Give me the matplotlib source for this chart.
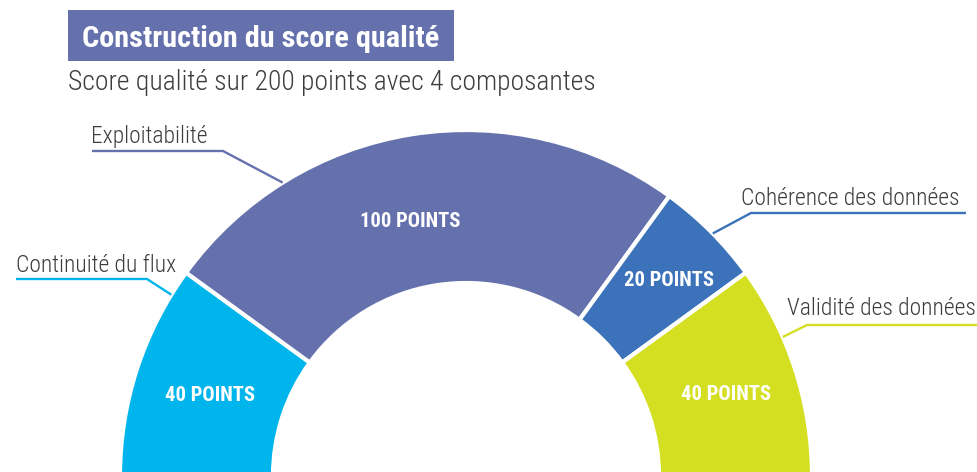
import numpy as np
import matplotlib
matplotlib.use("Agg")
import matplotlib.pyplot as plt
from matplotlib.patches import Rectangle

# --- data -------------------------------------------------------------
components = ["Continuité du flux", "Exploitabilité",
              "Cohérence des données", "Validité des données"]
points = [40, 100, 20, 40]
value_labels = ["40 POINTS", "100 POINTS", "20 POINTS", "40 POINTS"]
title = "Construction du score qualité"
subtitle = "Score qualité sur 200 points avec 4 composantes"

# --- style ------------------------------------------------------------
colors = ["#00B5EC", "#6571AD", "#3B72B9", "#D5DF22"]
text_grey = "#3d3d3d"
FONT = ["Roboto Condensed", "Liberation Sans Narrow", "DejaVu Sans"]

W, H = 977, 472
fig = plt.figure(figsize=(W / 100, H / 100), dpi=100)
ax = fig.add_axes([0, 0, 1, 1])


def py(y):
    """Convert a top-down pixel row to the axes' upward y coordinate."""
    return H - y


cx, cy = 466, 476          # centre of the half ring
R_out, R_in = 346, 193     # outer and inner radius

total = sum(points)
fracs = np.array(points) / (2 * total)   # half circle only
wedges, _ = ax.pie(fracs, normalize=False, colors=colors, startangle=180,
                   counterclock=False, center=(cx, py(cy)), radius=R_out,
                   wedgeprops=dict(width=R_out - R_in, edgecolor="white",
                                   linewidth=3))
ax.set_xlim(0, W)
ax.set_ylim(0, H)
ax.set_aspect("equal")
ax.axis("off")

# values written inside each segment
label_radius = [269, 263, 282, 273]
label_dx = [0, -15, 4, 0]
label_dy = [-3, -5, -4, -3]
for w, txt, rr, dx, dy in zip(wedges, value_labels, label_radius,
                              label_dx, label_dy):
    mid = np.deg2rad((w.theta1 + w.theta2) / 2)
    x = cx + rr * np.cos(mid) + dx
    y = py(cy) + rr * np.sin(mid) + dy
    ax.text(x, y, txt, color="white", fontsize=14.8, fontweight="bold",
            family=FONT, ha="center", va="center")

# leader lines: anchor angle on the outer edge, elbow, end of the underline
anchor_deg = [148.4, 122.0, 44.5, 23.7]
elbows = [(147, 279), (223, 151), (751, 213), (807, 325)]
line_end_x = [16, 92, 966, 977]
text_pos = [(16, 272), (91, 143), (741, 205), (787, 315)]
for name, col, a, (ex, ey), lx, (tx, ty) in zip(
        components, colors, anchor_deg, elbows, line_end_x, text_pos):
    t = np.deg2rad(a)
    axx = cx + R_out * np.cos(t)
    ayy = py(cy) + R_out * np.sin(t)
    ax.plot([axx, ex, lx], [ayy, py(ey), py(ey)], color=col, lw=1.7,
            solid_capstyle="butt", solid_joinstyle="miter")
    ax.text(tx, py(ty), name, color=text_grey, fontsize=16.9,
            fontweight="light", family=FONT, ha="left", va="baseline")

# title block
ax.add_patch(Rectangle((68, py(61)), 386, 51, facecolor="#6571AD",
                       edgecolor="none"))
ax.text(82, py(47), title, color="white", fontsize=21.8, fontweight="bold",
        family=FONT, ha="left", va="baseline")
ax.text(68, py(90), subtitle, color=text_grey, fontsize=19.9,
        fontweight="light", family=FONT, ha="left", va="baseline")

fig.savefig("out.png", dpi=100, facecolor="white")
